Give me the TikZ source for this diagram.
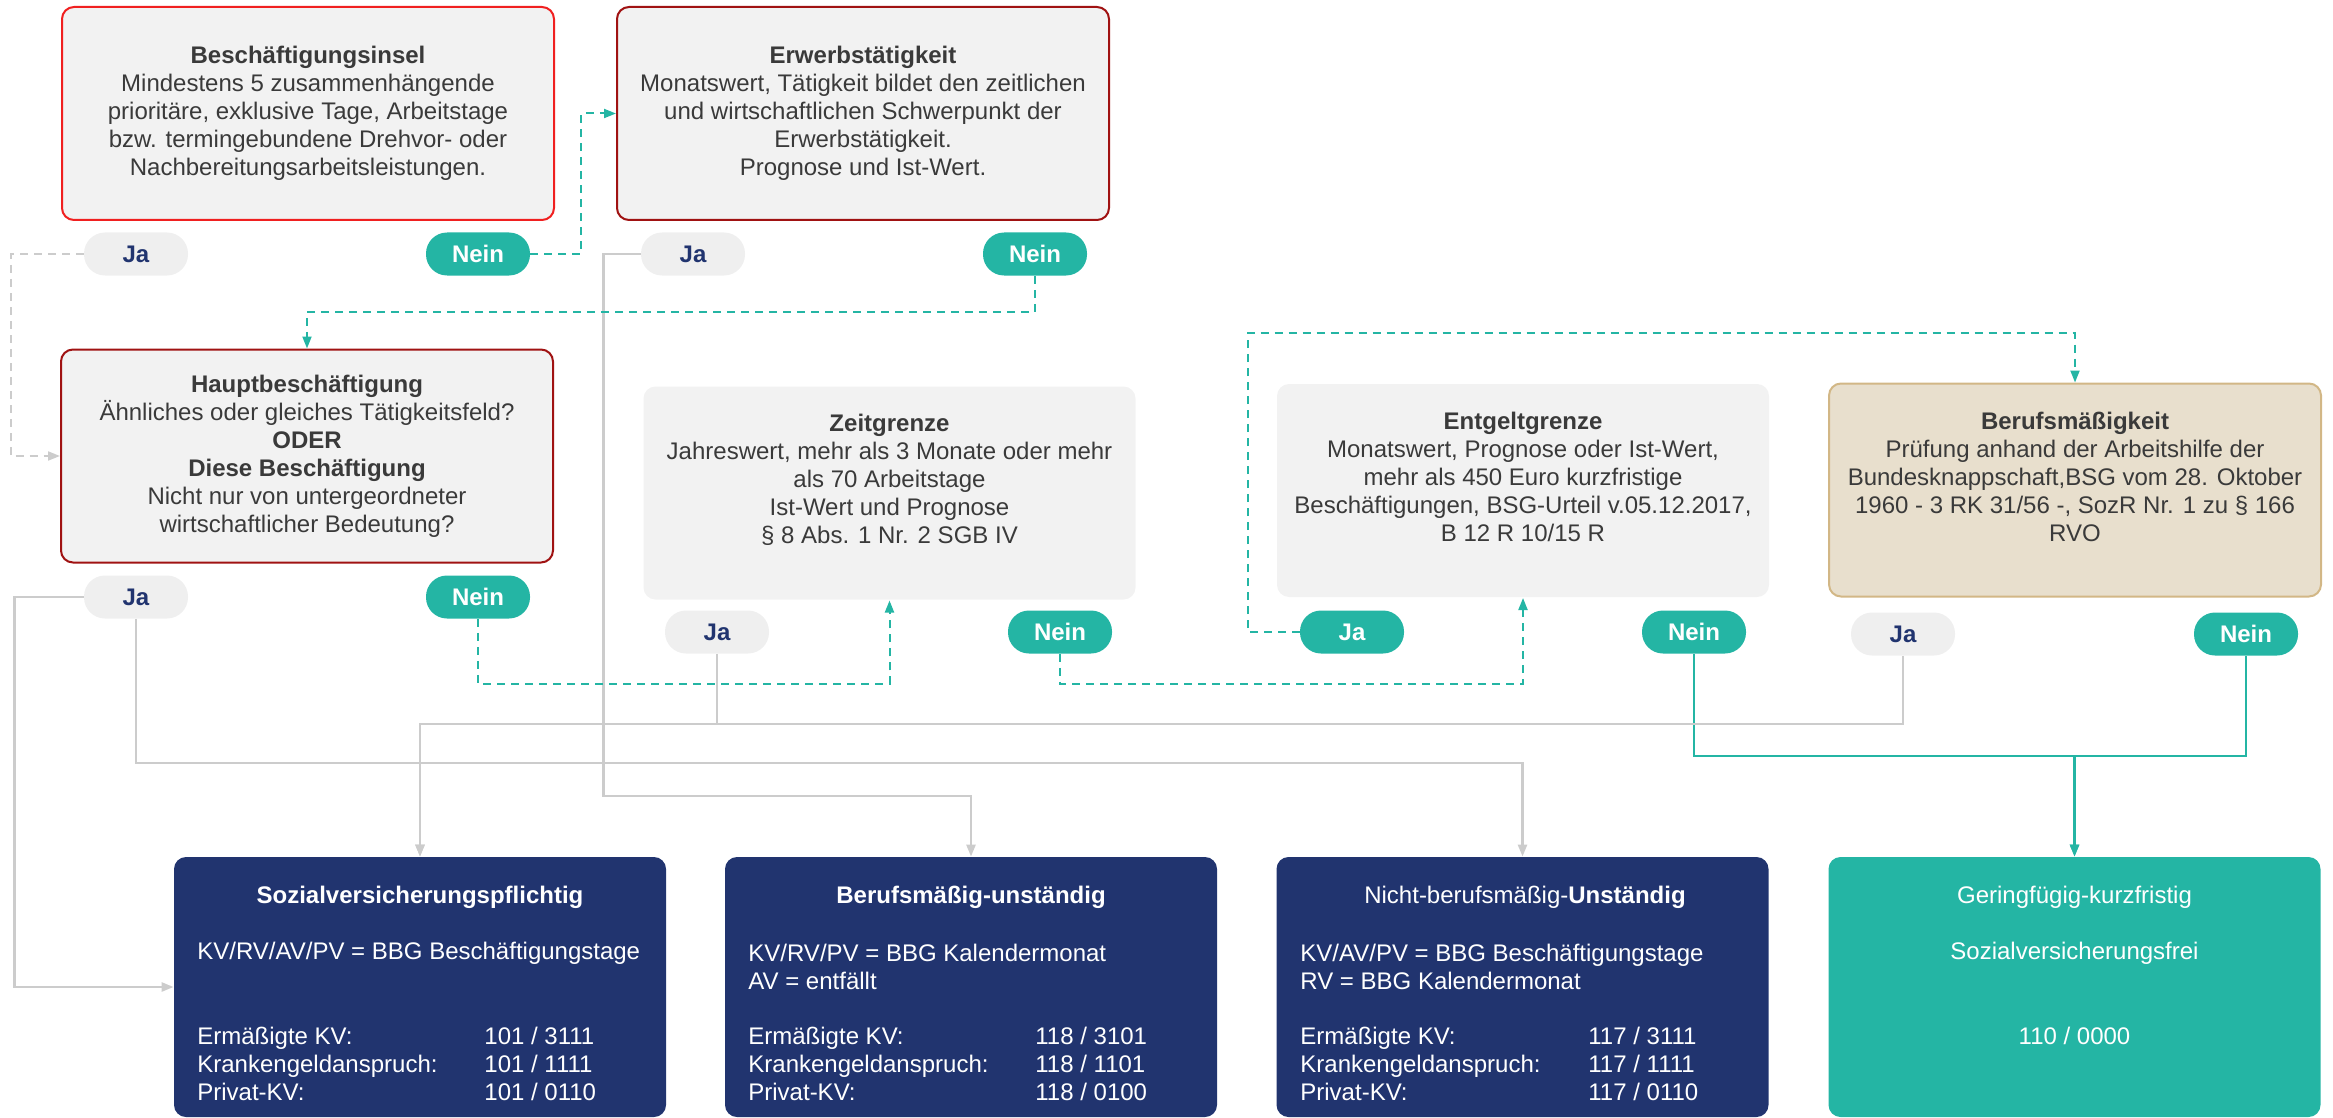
\documentclass[tikz,border=0pt]{standalone}
\usepackage{fontspec}
\setmainfont{Liberation Sans}
\usetikzlibrary{arrows.meta, positioning, calc}

\definecolor{boxgray}{HTML}{F2F2F2}
\definecolor{txtgray}{HTML}{3A3A3A}
\definecolor{brightred}{HTML}{F02020}
\definecolor{darkred}{HTML}{A01212}
\definecolor{tealgreen}{HTML}{24B5A4}
\definecolor{navyblue}{HTML}{21346F}
\definecolor{pillgray}{HTML}{EFEFEF}
\definecolor{linegray}{HTML}{CCCCCC}
\definecolor{beige}{HTML}{E8DFCD}
\definecolor{tanline}{HTML}{D2B786}

\tikzset{
    checkbox/.style={rectangle, rounded corners=6pt, fill=boxgray, line width=1pt,
        minimum width=246pt, minimum height=106.5pt, inner sep=0pt},
    boxtext/.style={font=\fontsize{12}{14}\selectfont, text=txtgray, align=center, inner sep=0pt},
    resultbox/.style={rectangle, rounded corners=6pt, minimum width=246pt,
        minimum height=130pt, inner sep=0pt},
    restext/.style={font=\fontsize{12}{14}\selectfont, text=white, inner sep=0pt, align=left},
    pill/.style={rectangle, rounded corners=10.5pt, minimum width=52pt, minimum height=21.5pt,
        inner sep=0pt, font=\fontsize{12}{14}\selectfont\bfseries},
    jabtn/.style={pill, fill=pillgray, text=navyblue},
    neinbtn/.style={pill, fill=tealgreen, text=white},
    grayarrow/.style={draw=linegray, line width=1.25pt, -{Triangle[length=6pt, width=4.5pt]}},
    graydash/.style={grayarrow, line width=1pt, dash pattern=on 4pt off 3pt},
    tealdash/.style={draw=tealgreen, line width=1pt, dash pattern=on 4pt off 3pt,
        -{Triangle[length=6pt, width=4.5pt]}},
    tealarrow/.style={draw=tealgreen, line width=1.25pt, -{Triangle[length=6pt, width=4.5pt]}}
}

\begin{document}
\begin{tikzpicture}[x=0.5pt, y=-0.5pt]
    \useasboundingbox (0,0) rectangle (2333,1118);

    % Top row
    \node[checkbox, draw=brightred] (insel) at (308,113.5) {};
    \node[boxtext] (inselT) at (insel.center) {\textbf{Beschäftigungsinsel}\\Mindestens 5 zusammenhängende\\prioritäre, exklusive Tage, Arbeitstage\\bzw. termingebundene Drehvor- oder\\Nachbereitungsarbeitsleistungen.};
    \node[checkbox, draw=darkred] (erwerb) at (863,113.5) {};
    \node[boxtext] (erwerbT) at (erwerb.center) {\textbf{Erwerbstätigkeit}\\Monatswert, Tätigkeit bildet den zeitlichen\\und wirtschaftlichen Schwerpunkt der\\Erwerbstätigkeit.\\Prognose und Ist-Wert.};

    \node[jabtn] (ja1) at (136,254) {Ja};
    \node[neinbtn] (nein1) at (478,254) {Nein};
    \node[jabtn] (ja2) at (693,254) {Ja};
    \node[neinbtn] (nein2) at (1035,254) {Nein};

    % Middle row
    \node[checkbox, draw=darkred] (haupt) at (307,456) {};
    \node[boxtext] (hauptT) at (haupt.center) {\textbf{Hauptbeschäftigung}\\Ähnliches oder gleiches Tätigkeitsfeld?\\\textbf{ODER}\\\textbf{Diese Beschäftigung}\\Nicht nur von untergeordneter\\wirtschaftlicher Bedeutung?};
    \node[checkbox] (zeit) at (889.5,493) {};
    \node[boxtext] (zeitT) at (889.5,480) {\textbf{Zeitgrenze}\\Jahreswert, mehr als 3 Monate oder mehr\\als 70 Arbeitstage\\Ist-Wert und Prognose\\§ 8 Abs. 1 Nr. 2 SGB IV};
    \node[checkbox] (entgelt) at (1523,490.5) {};
    \node[boxtext] (entgeltT) at (1523,477) {\textbf{Entgeltgrenze}\\Monatswert, Prognose oder Ist-Wert,\\mehr als 450 Euro kurzfristige\\Beschäftigungen, BSG-Urteil v.05.12.2017,\\B 12 R 10/15 R};
    \node[checkbox, fill=beige, draw=tanline] (beruf) at (2075,490) {};
    \node[boxtext] (berufT) at (2075,477) {\textbf{Berufsmäßigkeit}\\Prüfung anhand der Arbeitshilfe der\\Bundesknappschaft,BSG vom 28. Oktober\\1960 - 3 RK 31/56 -, SozR Nr. 1 zu § 166\\RVO};

    \node[jabtn] (jaH) at (136,597) {Ja};
    \node[neinbtn] (neinH) at (478,597) {Nein};
    \node[jabtn] (jaZ) at (717,632) {Ja};
    \node[neinbtn] (neinZ) at (1060,632) {Nein};
    \node[neinbtn] (jaE) at (1352,632) {Ja};
    \node[neinbtn] (neinE) at (1694,632) {Nein};
    \node[jabtn] (jaB) at (1903,634) {Ja};
    \node[neinbtn] (neinB) at (2246,634) {Nein};

    % Result boxes
    \node[resultbox, fill=navyblue] (sozial) at (420,987) {};
    \node[resultbox, fill=navyblue] (berufsu) at (971,987) {};
    \node[resultbox, fill=navyblue] (nicht) at (1522.5,987) {};
    \node[resultbox, fill=tealgreen] (gering) at (2074.5,987) {};

    \node[restext] (sozialT) at (420,897) {\textbf{Sozialversicherungspflichtig}};
    \node[restext, anchor=west] (sozialA) at (197,953) {KV/RV/AV/PV = BBG Beschäftigungstage};
    \node[restext, anchor=west] (sozialK) at (197,1064) {Ermäßigte KV:\\Krankengeldanspruch:\\Privat-KV:};
    \node[restext, anchor=west] (sozialW) at (484,1064) {101 / 3111\\101 / 1111\\101 / 0110};

    \node[restext] (berufsuT) at (971,897) {\textbf{Berufsmäßig-unständig}};
    \node[restext, anchor=west] (berufsuA) at (748,966.5) {KV/RV/PV = BBG Kalendermonat\\AV = entfällt};
    \node[restext, anchor=west] (berufsuK) at (748,1064) {Ermäßigte KV:\\Krankengeldanspruch:\\Privat-KV:};
    \node[restext, anchor=west] (berufsuW) at (1035,1064) {118 / 3101\\118 / 1101\\118 / 0100};

    \node[restext] (nichtT) at (1525,897) {Nicht-berufsmäßig-\textbf{Unständig}};
    \node[restext, anchor=west] (nichtA) at (1300,966.5) {KV/AV/PV = BBG Beschäftigungstage\\RV = BBG Kalendermonat};
    \node[restext, anchor=west] (nichtK) at (1300,1064) {Ermäßigte KV:\\Krankengeldanspruch:\\Privat-KV:};
    \node[restext, anchor=west] (nichtW) at (1588,1064) {117 / 3111\\117 / 1111\\117 / 0110};

    \node[restext] (geringT) at (2074.5,897) {Geringfügig-kurzfristig};
    \node[restext] (geringA) at (2074.5,953) {Sozialversicherungsfrei};
    \node[restext] (geringW) at (2074.5,1036) {110 / 0000};

    % Connectors
    \draw[graydash] (ja1.west) -- ++(-73,0) |- (haupt.west);
    \draw[tealdash] (nein1.east) -- ++(51,0) |- (erwerb.west);
    \draw[grayarrow] (ja2.west) -- ++(-37,0) -- ++(0,542) -| (berufsu.north);
    \draw[tealdash] (nein2.south) -- ++(0,36) -| (haupt.north);
    \draw[grayarrow] (jaH.west) -- ++(-69,0) |- (sozial.west);
    \draw[grayarrow] (jaH.south) -- ++(0,144) -| (nicht.north);
    \draw[tealdash] (neinH.south) -- ++(0,65) -| (zeit.south);
    \draw[grayarrow] (jaZ.south) -- ++(0,70) -| (sozial.north);
    \draw[tealdash] (neinZ.south) -- ++(0,30) -| (entgelt.south);
    \draw[tealdash] (jaE.west) -- ++(-52,0) -- ++(0,-299) -| (beruf.north);
    \draw[tealarrow] (neinE.south) -- ++(0,102) -| (gering.north);
    \draw[grayarrow] (jaB.south) -- ++(0,68) -| (sozial.north);
    \draw[tealarrow] (neinB.south) -- ++(0,100) -| (gering.north);
\end{tikzpicture}
\end{document}
